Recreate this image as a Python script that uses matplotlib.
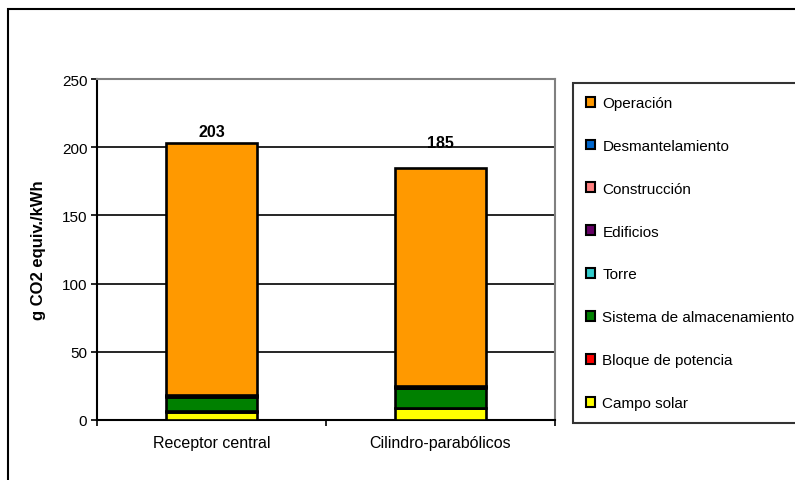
import numpy as np
import matplotlib
matplotlib.use('Agg')
import matplotlib.pyplot as plt
from matplotlib.patches import Rectangle

plt.rcParams['font.family'] = ['Liberation Sans', 'DejaVu Sans']

# Emisiones por tecnología (g CO2 equiv./kWh), apiladas de abajo hacia arriba
categorias = ['Receptor central', 'Cilindro-parabólicos']
campo_solar = [5.5, 8.5]
bloque_potencia = [1.0, 0.5]
almacenamiento = [10.0, 14.5]
torre = [0.8, 0.0]
edificios = [0.3, 1.0]
construccion = [0.2, 0.3]
desmantelamiento = [0.2, 0.2]
operacion = [185.0, 160.0]
totales = [203, 185]

series = [
    ('Campo solar', campo_solar, '#FFFF00'),
    ('Bloque de potencia', bloque_potencia, '#FF0000'),
    ('Sistema de almacenamiento', almacenamiento, '#008000'),
    ('Torre', torre, '#33CCCC'),
    ('Edificios', edificios, '#660066'),
    ('Construcción', construccion, '#FF8080'),
    ('Desmantelamiento', desmantelamiento, '#0066CC'),
    ('Operación', operacion, '#FF9900'),
]

fig = plt.figure(figsize=(7.95, 4.81), dpi=100)
ax = fig.add_axes([97 / 795, 60 / 481, 458 / 795, 341 / 481])

x = np.arange(len(categorias))
base = np.zeros(len(categorias))
handles = []
for nombre, valores, color in series:
    b = ax.bar(x, valores, width=0.4, bottom=base, color=color,
               edgecolor='black', linewidth=1.9, label=nombre, zorder=3)
    handles.append(b)
    base += np.array(valores)

# etiquetas de total encima de cada barra
desplazamientos = [3, 13]
for xi, total, dy in zip(x, totales, desplazamientos):
    ax.annotate(str(total), (xi, total), xytext=(0, dy), textcoords='offset points',
                ha='center', va='bottom', fontsize=11.5, fontweight='bold', zorder=4)

ax.set_xlim(-0.5, 1.5)
ax.set_ylim(0, 250)
ax.set_yticks([0, 50, 100, 150, 200, 250])
ax.yaxis.grid(True, color='black', linewidth=1.2, zorder=0)
ax.set_axisbelow(True)
ax.set_xticks(x)
ax.set_xticklabels(categorias, fontsize=11.5)
ax.set_xticks([-0.5, 0.5, 1.5], minor=True)
ax.tick_params(axis='x', which='major', length=0, pad=11)
ax.tick_params(axis='x', which='minor', length=4, width=1.2, direction='out')
ax.tick_params(axis='y', length=4, width=1.2, direction='out', labelsize=11, pad=3)
ax.set_ylabel('g CO2 equiv./kWh', fontsize=12, fontweight='bold', labelpad=11)

for lado in ['top', 'right']:
    ax.spines[lado].set_color('#808080')
    ax.spines[lado].set_linewidth(1.5)
for lado in ['left', 'bottom']:
    ax.spines[lado].set_color('black')
    ax.spines[lado].set_linewidth(1.5)

leg = fig.legend(handles[::-1], [s[0] for s in series][::-1],
                 loc='upper left', bbox_to_anchor=(573 / 795, 1 - 84 / 481),
                 fontsize=11, frameon=True, fancybox=False, edgecolor='black',
                 handlelength=0.62, handleheight=0.62, handletextpad=0.45,
                 labelspacing=1.89, borderpad=0.85, borderaxespad=0)
leg.get_frame().set_linewidth(1.5)
for h in leg.legend_handles:
    h.set_linewidth(1.5)

# marco exterior del gráfico
fig.patches.append(Rectangle((8 / 795, -0.1), 1.1, 0.1 + 1 - 10 / 481,
                             transform=fig.transFigure, fill=False,
                             edgecolor='black', linewidth=1.5))

fig.savefig('out.png', dpi=100)
